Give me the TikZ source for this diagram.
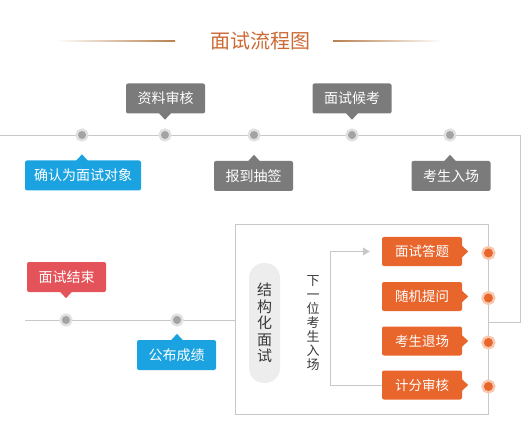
\documentclass[tikz,border=0pt]{standalone}
\usepackage{fontspec}
\setmainfont{Noto Sans CJK SC}
\usetikzlibrary{calc,arrows.meta}

\definecolor{tagGray}{HTML}{7B7B7B}
\definecolor{tagBlue}{HTML}{1AA3E0}
\definecolor{tagRed}{HTML}{E4535A}
\definecolor{tagOrange}{HTML}{E8652C}
\definecolor{haloOrange}{HTML}{F7C7AE}
\definecolor{titleOrange}{HTML}{CC6A35}
\definecolor{titleLine}{HTML}{B8804F}
\definecolor{lineGray}{HTML}{C8C8C8}
\definecolor{dotGray}{HTML}{A3A3A3}
\definecolor{haloGray}{HTML}{E0E0E0}
\definecolor{pillGray}{HTML}{EDEDED}
\definecolor{textDark}{HTML}{3A3A3A}

% pointers of the tags
\newcommand{\tipdown}[3]{\fill[#3] (#1.south -| #2) ++(-6pt,0.5pt) -- ++(12pt,0pt) -- ++(-6pt,-6.5pt) -- cycle;}
\newcommand{\tipup}[3]{\fill[#3] (#1.north -| #2) ++(-6pt,-0.5pt) -- ++(12pt,0pt) -- ++(-6pt,6.5pt) -- cycle;}

\begin{document}
\begin{tikzpicture}[x=1pt,y=-1pt,
  tag/.style={rounded corners=2pt, text=white, minimum width=79pt, minimum height=30pt,
    inner sep=0pt, font=\fontsize{14}{16}\selectfont},
  stepbox/.style={tag, fill=tagOrange, minimum width=80pt, minimum height=29pt,
    font=\fontsize{13.5}{16}\selectfont},
  dot/.style={circle, inner sep=0pt, minimum size=8pt, fill=dotGray,
    preaction={draw=haloGray, line width=5pt}},
  odot/.style={circle, inner sep=0pt, minimum size=9pt, fill=tagOrange,
    preaction={draw=haloOrange, line width=5pt}},
  rule/.style={lineGray, line width=0.8pt}]
\useasboundingbox (0,0) rectangle (529,427);

% title
\node[text=titleOrange, font=\fontsize{20}{22}\selectfont] (title) at (260,41) {面试流程图};
\shade[left color=white, right color=titleLine] (55,40.5) rectangle (175,41.5);
\shade[left color=titleLine, right color=white] (333,40.5) rectangle (443,41.5);

% frame of the interview
\node[draw=lineGray, line width=0.8pt, minimum width=253pt, minimum height=190pt] (frame) at (361.5,319) {};
\coordinate (rt) at (520,135);

% timelines
\draw[rule] (0,135) -- (rt) |- ([yshift=-3pt]frame.east);
\draw[rule] (25,320) -- (frame.west |- 0,320);

\foreach \x/\n in {82/d1,165/d2,254/d3,352/d4,450/d5}{
  \node[dot] (\n) at (\x,135) {};
}
\node[dot] (e1) at (66,320) {};
\node[dot] (e2) at (177,320) {};

% tags
\node[tag, fill=tagBlue, minimum width=116pt] (t1) at (83,175.5) {确认为面试对象};
\node[tag, fill=tagGray] (t2) at (165.5,98.5) {资料审核};
\node[tag, fill=tagGray] (t3) at (253.5,176) {报到抽签};
\node[tag, fill=tagGray] (t4) at (352,98.5) {面试候考};
\node[tag, fill=tagGray] (t5) at (451,176) {考生入场};
\node[tag, fill=tagBlue] (t6) at (176.5,355) {公布成绩};
\node[tag, fill=tagRed] (t7) at (66.5,277) {面试结束};

\tipup{t1}{d1}{tagBlue}
\tipdown{t2}{d2}{tagGray}
\tipup{t3}{d3}{tagGray}
\tipdown{t4}{d4}{tagGray}
\tipup{t5}{d5}{tagGray}
\tipup{t6}{e2}{tagBlue}
\tipdown{t7}{e1}{tagRed}

% inside the frame
\node[fill=pillGray, rounded corners=15pt, minimum width=31pt, minimum height=120pt,
  inner sep=0pt, align=center, text=textDark, font=\fontsize{15}{16.5}\selectfont] (pill)
  at (264.5,323) {结\\构\\化\\面\\试};
\node[align=center, text=textDark, inner sep=0pt, font=\fontsize{13}{14}\selectfont] (next)
  at (313,323.5) {下\\一\\位\\考\\生\\入\\场};

\foreach \y/\n/\t in {251.5/s1/面试答题,296.5/s2/随机提问,341/s3/考生退场,385/s4/计分审核}{
  \node[stepbox] (\n) at (422,\y) {\t};
  \fill[tagOrange] (\n.east) ++(-0.5pt,6pt) -- ++(6.5pt,-6pt) -- ++(-6.5pt,-6pt) -- cycle;
  \node[odot] (o\n) at ([yshift=-1.5pt]frame.east |- \n) {};
}

\coordinate (loop) at (330,0);
\draw[rule, -{Triangle[length=7pt,width=8pt]}] (s4.west) -| (loop |- s1) -- ([xshift=-12pt]s1.west);
\end{tikzpicture}
\end{document}
